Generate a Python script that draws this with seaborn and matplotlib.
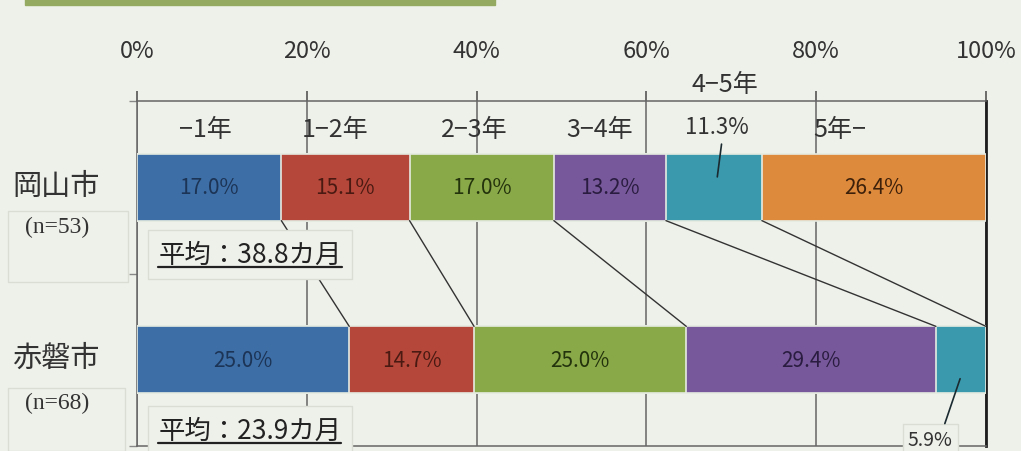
import numpy as np
import pandas as pd
import matplotlib
matplotlib.use("Agg")
import matplotlib.pyplot as plt
import seaborn as sns
from matplotlib.patches import Rectangle
from matplotlib.lines import Line2D
import matplotlib.transforms as mtrans

# ---------------- data ----------------
cities = ["岡山市", "赤磐市"]
n_labels = ["(n=53)", "(n=68)"]
avg_labels = ["平均：38.8カ月", "平均：23.9カ月"]
segments = ["−1年", "1−2年", "2−3年", "3−4年", "4−5年", "5年−"]
okayama = [17.0, 15.1, 17.0, 13.2, 11.3, 26.4]
akaiwa = [25.0, 14.7, 25.0, 29.4, 5.9, 0.0]
ticks = [0, 20, 40, 60, 80, 100]

# ---------------- style ----------------
BG = "#eef1ea"
colors = ["#3d6ea6", "#b5473a", "#89a848", "#77589a", "#3a99ad", "#dd8a3c"]
text_colors = ["#1c3455", "#4a1a12", "#23330c", "#2a1c40", "#123a44", "#3d200a"]

sns.set_theme(style="white")
plt.rcParams["font.family"] = ["Noto Sans CJK JP", "DejaVu Sans"]

W, H = 1021, 452
fig = plt.figure(figsize=(W / 100, H / 100), dpi=100, facecolor=BG)
ax = fig.add_axes([137 / W, 1 - 447 / H, 849 / W, 345 / H])
ax.set_facecolor(BG)

# title strip
fig.patches.append(Rectangle((25 / W, 1 - 6 / H), 470 / W, 6 / H,
                             transform=fig.transFigure, color="#94aa60", zorder=0))

vals = np.array([okayama, akaiwa])
cum = np.cumsum(vals, axis=1)
bar_w = 0.387

# stacked bars via seaborn (draw cumulative totals from last to first)
for i in range(len(segments) - 1, -1, -1):
    df = pd.DataFrame({"city": cities, "cum": cum[:, i]})
    sns.barplot(data=df, x="cum", y="city", orient="h", color=colors[i],
                width=bar_w, edgecolor="#e6ebe2", linewidth=1.2,
                saturation=1, ax=ax, zorder=3)

ax.set_xlim(0, 100)
ax.set_ylim(1.5, -0.5)
ax.set_xlabel("")
ax.set_ylabel("")

# value labels inside bars
for r in range(2):
    for i, v in enumerate(vals[r]):
        if v <= 0 or i == 4:
            continue
        cx = cum[r, i] - v / 2
        ax.text(cx, r, f"{v:.1f}%", ha="center", va="center",
                fontsize=15, color=text_colors[i], zorder=5)

# connector (series) lines
for i in range(5):
    ax.plot([cum[0, i], cum[1, i]], [bar_w / 2, 1 - bar_w / 2],
            color="#333333", lw=1.0, zorder=4)

# series name labels
nudge = [-0.5, -1.2, -0.9, -1.2, 1.3, -4.0]
for i, s in enumerate(segments):
    cx = cum[0, i] - vals[0, i] / 2 + nudge[i]
    y = -0.60 if i == 4 else -0.34
    ax.text(cx, y, s, ha="center", va="center", fontsize=18,
            color="#333333", zorder=5, clip_on=False)

# 11.3% label with leader
tcx = cum[0, 4] - vals[0, 4] / 2
ax.text(tcx + 0.3, -0.35, f"{okayama[4]:.1f}%", ha="center", va="center",
        fontsize=16, color="#333333", zorder=5)
ax.plot([tcx + 0.4, tcx + 0.9], [-0.06, -0.25], color="#1a2a30", lw=1.2, zorder=6)

# 5.9% label with leader (bottom)
bcx = cum[1, 4] - akaiwa[4] / 2
ax.text(bcx - 3.6, 1.46, f"{akaiwa[4]:.1f}%", ha="center", va="center",
        fontsize=14, color="#333333", zorder=6, clip_on=False,
        bbox=dict(boxstyle="square,pad=0.25", fc=BG, ec="#d9ddd3", lw=1))
ax.plot([bcx - 0.1, bcx - 1.9], [1.11, 1.37], color="#1a2a30", lw=1.2, zorder=6)

# axis styling
ax.xaxis.tick_top()
ax.set_xticks(ticks)
ax.set_xticklabels([f"{t}%" for t in ticks])
ax.tick_params(axis="x", which="major", top=True, bottom=False, direction="out",
               length=7, width=1.2, color="#555555", pad=21, labelsize=17,
               labelcolor="#333333")
ax.set_yticks([-0.5, 0.5, 1.5])
ax.set_yticklabels([])
ax.tick_params(axis="y", left=True, direction="out", length=6, width=1,
               color="#888888")
ax.grid(axis="x", color="#666666", lw=1.1, zorder=0)
ax.grid(axis="y", visible=False)
ax.set_axisbelow(True)
for side in ["top", "bottom", "left"]:
    ax.spines[side].set_visible(True)
    ax.spines[side].set_color("#666666")
    ax.spines[side].set_linewidth(1.1)
ax.spines["right"].set_visible(True)
ax.spines["right"].set_color("#1e1e1e")
ax.spines["right"].set_linewidth(2.0)

# city names and n labels
blend = mtrans.blended_transform_factory(fig.transFigure, ax.transData)
n_dy = [0.23, 0.25]
for r in range(2):
    ax.text(56 / W, r - 0.01, cities[r], transform=blend, ha="center",
            va="center", fontsize=21, color="#333333", clip_on=False)
    ax.text(57 / W, r + n_dy[r], n_labels[r], transform=blend, ha="center",
            va="center", fontsize=17, color="#333333", clip_on=False,
            family=["Liberation Serif", "DejaVu Serif"])

fig.patches.append(Rectangle((8 / W, 1 - 283 / H), 120 / W, 71 / H,
                             transform=fig.transFigure, fill=False,
                             ec="#d9ddd3", lw=1))
fig.patches.append(Rectangle((8 / W, 1 - 452 / H), 117 / W, 63 / H,
                             transform=fig.transFigure, fill=False,
                             ec="#d9ddd3", lw=1))

# average labels (underlined, boxed)
avg_texts = []
avg_dy = [0.39, 0.41]
for r in range(2):
    t = ax.text(13.3, r + avg_dy[r], avg_labels[r],
                ha="center", va="center", fontsize=19, color="#222222",
                zorder=7, clip_on=False,
                bbox=dict(boxstyle="square,pad=0.4", fc=BG, ec="#d9ddd3", lw=1))
    avg_texts.append(t)

fig.canvas.draw()
renderer = fig.canvas.get_renderer()
inv = fig.transFigure.inverted()
for t in avg_texts:
    bb = t.get_window_extent(renderer)
    (x0, y0), (x1, y1) = inv.transform([(bb.x0, bb.y0), (bb.x1, bb.y1)])
    fig.lines.append(Line2D([x0, x1], [y0 + 1 / H, y0 + 1 / H],
                            transform=fig.transFigure, color="#222222",
                            lw=1.6, zorder=8))

fig.savefig("out.png", dpi=100, facecolor=BG)
